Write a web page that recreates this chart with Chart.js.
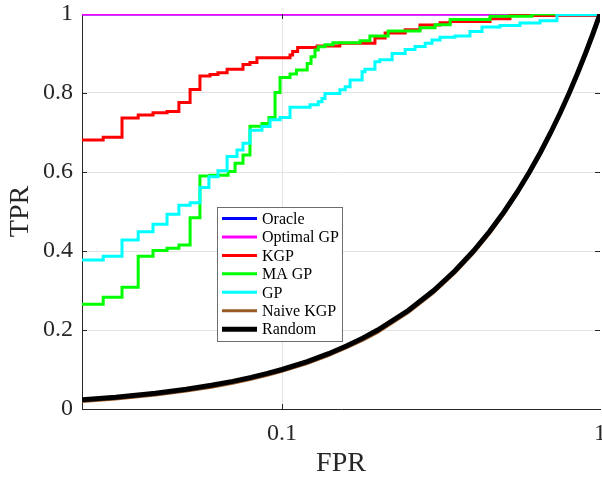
<!DOCTYPE html>
<html>
<head>
<meta charset="utf-8">
<script src="https://cdn.jsdelivr.net/npm/chart.js@4.4.0/dist/chart.umd.min.js"></script>
<style>
  body { margin: 0; background: #fff; }
  #wrap { width: 602px; height: 481px; }
</style>
</head>
<body>
<div id="wrap"><canvas id="roc" width="602" height="481"></canvas></div>
<script>
// axis ticks
const xTicks = [0.1, 1];
const yTicks = [0, 0.2, 0.4, 0.6, 0.8, 1];

// ROC curves (FPR / TPR)
const oracleFpr = [0.0235, 1];
const oracleTpr = [1, 1];

const optimalFpr = [0.0235, 1];
const optimalTpr = [1, 1];

const kgpFpr = [0.0235, 0.0274, 0.0314, 0.0353, 0.0393, 0.0435, 0.0474, 0.0514, 0.0552, 0.0594,
  0.0629, 0.0672, 0.0754, 0.0793, 0.0834, 0.106, 0.108, 0.112, 0.129, 0.152,
  0.196, 0.211, 0.244, 0.2716, 0.314, 0.338, 0.451, 0.521, 1];
const kgpTpr = [0.681, 0.688, 0.737, 0.744, 0.750, 0.753, 0.776, 0.809, 0.843, 0.847,
  0.851, 0.860, 0.872, 0.877, 0.889, 0.896, 0.905, 0.915, 0.919, 0.926,
  0.939, 0.952, 0.960, 0.972, 0.978, 0.981, 0.988, 0.996, 1];

const maFpr = [0.0235, 0.0274, 0.0314, 0.0353, 0.0393, 0.0435, 0.0474, 0.0514, 0.0552, 0.0594,
  0.0677, 0.0712, 0.0754, 0.0793, 0.0865, 0.0910, 0.0951, 0.0986, 0.106, 0.111,
  0.120, 0.1234, 0.127, 0.130, 0.1365, 0.1446, 0.176, 0.189, 0.2157, 0.2716,
  0.303, 0.338, 0.451, 0.611, 1];
const maTpr = [0.265, 0.283, 0.308, 0.387, 0.401, 0.407, 0.415, 0.484, 0.590, 0.592,
  0.601, 0.622, 0.643, 0.716, 0.723, 0.738, 0.801, 0.839, 0.848, 0.858,
  0.875, 0.892, 0.909, 0.917, 0.922, 0.927, 0.932, 0.944, 0.957, 0.965,
  0.973, 0.986, 0.994, 1, 1];

const gpFpr = [0.0235, 0.0274, 0.0314, 0.0353, 0.0393, 0.0435, 0.0474, 0.0514, 0.0552, 0.0589,
  0.0629, 0.0672, 0.0722, 0.0754, 0.0793, 0.0865, 0.0917, 0.0986, 0.106, 0.1225,
  0.130, 0.1336, 0.1365, 0.152, 0.158, 0.1637, 0.1786, 0.1824, 0.196, 0.203,
  0.222, 0.244, 0.262, 0.282, 0.2963, 0.314, 0.350, 0.390, 0.4256, 0.485,
  0.560, 0.648, 0.732, 1];
const gpTpr = [0.377, 0.387, 0.428, 0.449, 0.468, 0.493, 0.516, 0.522, 0.561, 0.588,
  0.603, 0.639, 0.656, 0.673, 0.706, 0.715, 0.732, 0.738, 0.764, 0.770,
  0.778, 0.786, 0.799, 0.808, 0.816, 0.833, 0.854, 0.860, 0.879, 0.884,
  0.900, 0.910, 0.918, 0.926, 0.934, 0.941, 0.944, 0.956, 0.967, 0.971,
  0.977, 0.983, 0.998, 1];

const naiveFpr = [0.0235, 0.03, 0.04, 0.05, 0.06, 0.07, 0.08, 0.09, 0.1, 0.12,
  0.14, 0.16, 0.18, 0.2, 0.25, 0.3, 0.35, 0.4, 0.45, 0.5,
  0.55, 0.6, 0.65, 0.7, 0.75, 0.8, 0.85, 0.9, 0.95, 1];
const naiveTpr = [0.018, 0.024, 0.034, 0.044, 0.054, 0.064, 0.074, 0.084, 0.094, 0.114,
  0.134, 0.154, 0.173, 0.193, 0.243, 0.293, 0.343, 0.393, 0.443, 0.493,
  0.543, 0.594, 0.644, 0.695, 0.746, 0.796, 0.847, 0.897, 0.948, 1];

const randomFpr = [0.0235, 0.03, 0.04, 0.05, 0.06, 0.07, 0.08, 0.09, 0.1, 0.12,
  0.14, 0.16, 0.18, 0.2, 0.25, 0.3, 0.35, 0.4, 0.45, 0.5,
  0.55, 0.6, 0.65, 0.7, 0.75, 0.8, 0.85, 0.9, 0.95, 1];
const randomTpr = [0.0235, 0.03, 0.04, 0.05, 0.06, 0.07, 0.08, 0.09, 0.1, 0.12,
  0.14, 0.16, 0.18, 0.2, 0.25, 0.3, 0.35, 0.4, 0.45, 0.5,
  0.55, 0.6, 0.65, 0.7, 0.75, 0.8, 0.85, 0.9, 0.95, 1];

const FONT = "'Liberation Serif', 'DejaVu Serif', serif";
const TXT = '#262626';
const GRID = '#e3e3e3';

function toPoints(xs, ys) {
  return xs.map((x, i) => ({ x: x, y: ys[i] }));
}

function series(label, xs, ys, color, width, order, stepped) {
  return {
    label: label,
    data: toPoints(xs, ys),
    borderColor: color,
    backgroundColor: color,
    borderWidth: width,
    pointRadius: 0,
    fill: false,
    tension: 0,
    stepped: stepped ? 'before' : false,
    order: order
  };
}

// inward tick marks + legend box drawn inside the axes
const decorPlugin = {
  id: 'decor',
  afterDraw(chart) {
    const ctx = chart.ctx;
    const a = chart.chartArea;
    const xs = chart.scales.x, ys = chart.scales.y;
    ctx.save();
    ctx.strokeStyle = TXT;
    ctx.lineWidth = 1;
    ctx.beginPath();
    yTicks.slice(1, -1).forEach(v => {
      const y = Math.round(ys.getPixelForValue(v)) + 0.5;
      ctx.moveTo(a.left, y); ctx.lineTo(a.left + 5, y);
      ctx.moveTo(a.right - 5, y); ctx.lineTo(a.right, y);
    });
    const x1 = Math.round(xs.getPixelForValue(xTicks[0])) + 0.5;
    ctx.moveTo(x1, a.bottom); ctx.lineTo(x1, a.bottom - 5);
    ctx.moveTo(x1, a.top); ctx.lineTo(x1, a.top + 5);
    ctx.stroke();

    // legend
    const bx = 217.5, by = 207.5, bw = 125, bh = 134;
    ctx.fillStyle = '#fff';
    ctx.fillRect(bx, by, bw, bh);
    ctx.strokeStyle = '#6e6e6e';
    ctx.strokeRect(bx, by, bw, bh);
    ctx.font = '16px ' + FONT;
    ctx.textBaseline = 'middle';
    ctx.textAlign = 'left';
    chart.data.datasets.forEach((ds, i) => {
      const y = 218.5 + i * 18.45;
      ctx.strokeStyle = ds.borderColor;
      ctx.lineWidth = ds.label === 'Random' ? 5 : 3;
      ctx.beginPath();
      ctx.moveTo(222, y); ctx.lineTo(257, y);
      ctx.stroke();
      ctx.fillStyle = '#000';
      ctx.fillText(ds.label, 262, y + 1);
    });
    ctx.restore();
  }
};

new Chart(document.getElementById('roc'), {
  type: 'line',
  data: {
    datasets: [
      series('Oracle', oracleFpr, oracleTpr, '#0000ff', 3, 7, true),
      series('Optimal GP', optimalFpr, optimalTpr, '#ff00ff', 3, 6, true),
      series('KGP', kgpFpr, kgpTpr, '#ff0000', 3, 5, true),
      series('MA GP', maFpr, maTpr, '#00ff00', 3, 4, true),
      series('GP', gpFpr, gpTpr, '#00ffff', 3, 3, true),
      series('Naive KGP', naiveFpr, naiveTpr, '#9a5a26', 2, 2, false),
      series('Random', randomFpr, randomTpr, '#000000', 5, 1, false)
    ]
  },
  options: {
    responsive: false,
    animation: false,
    layout: { padding: { top: 14, right: 2, bottom: 0, left: 0 } },
    plugins: { legend: { display: false }, tooltip: { enabled: false } },
    scales: {
      x: {
        type: 'logarithmic',
        min: 0.0235,
        max: 1,
        afterBuildTicks: s => { s.ticks = xTicks.map(v => ({ value: v })); },
        afterFit: s => { s.height = 72; s.paddingLeft = 0; s.paddingRight = 0; },
        ticks: {
          callback: v => String(v),
          font: { family: FONT, size: 24 },
          color: TXT,
          padding: 10,
          maxRotation: 0,
          autoSkip: false
        },
        grid: {
          color: c => (c.tick && c.tick.value === 0.1) ? GRID : 'rgba(0,0,0,0)',
          drawTicks: false
        },
        border: { color: TXT, width: 1 },
        title: {
          display: true,
          text: 'FPR',
          font: { family: FONT, size: 28 },
          color: TXT,
          padding: { top: 0, bottom: 1 }
        }
      },
      y: {
        min: 0,
        max: 1,
        afterBuildTicks: s => { s.ticks = yTicks.map(v => ({ value: v })); },
        afterFit: s => { s.width = 82; s.paddingTop = 0; s.paddingBottom = 0; },
        ticks: {
          callback: v => String(v),
          font: { family: FONT, size: 24 },
          color: TXT,
          padding: 9
        },
        grid: {
          color: c => (c.tick && c.tick.value > 0 && c.tick.value < 1) ? GRID : 'rgba(0,0,0,0)',
          drawTicks: false
        },
        border: { color: TXT, width: 1 },
        title: {
          display: true,
          text: 'TPR',
          font: { family: FONT, size: 28 },
          color: TXT,
          padding: { top: 4, bottom: 0 }
        }
      }
    }
  },
  plugins: [decorPlugin]
});
</script>
</body>
</html>
